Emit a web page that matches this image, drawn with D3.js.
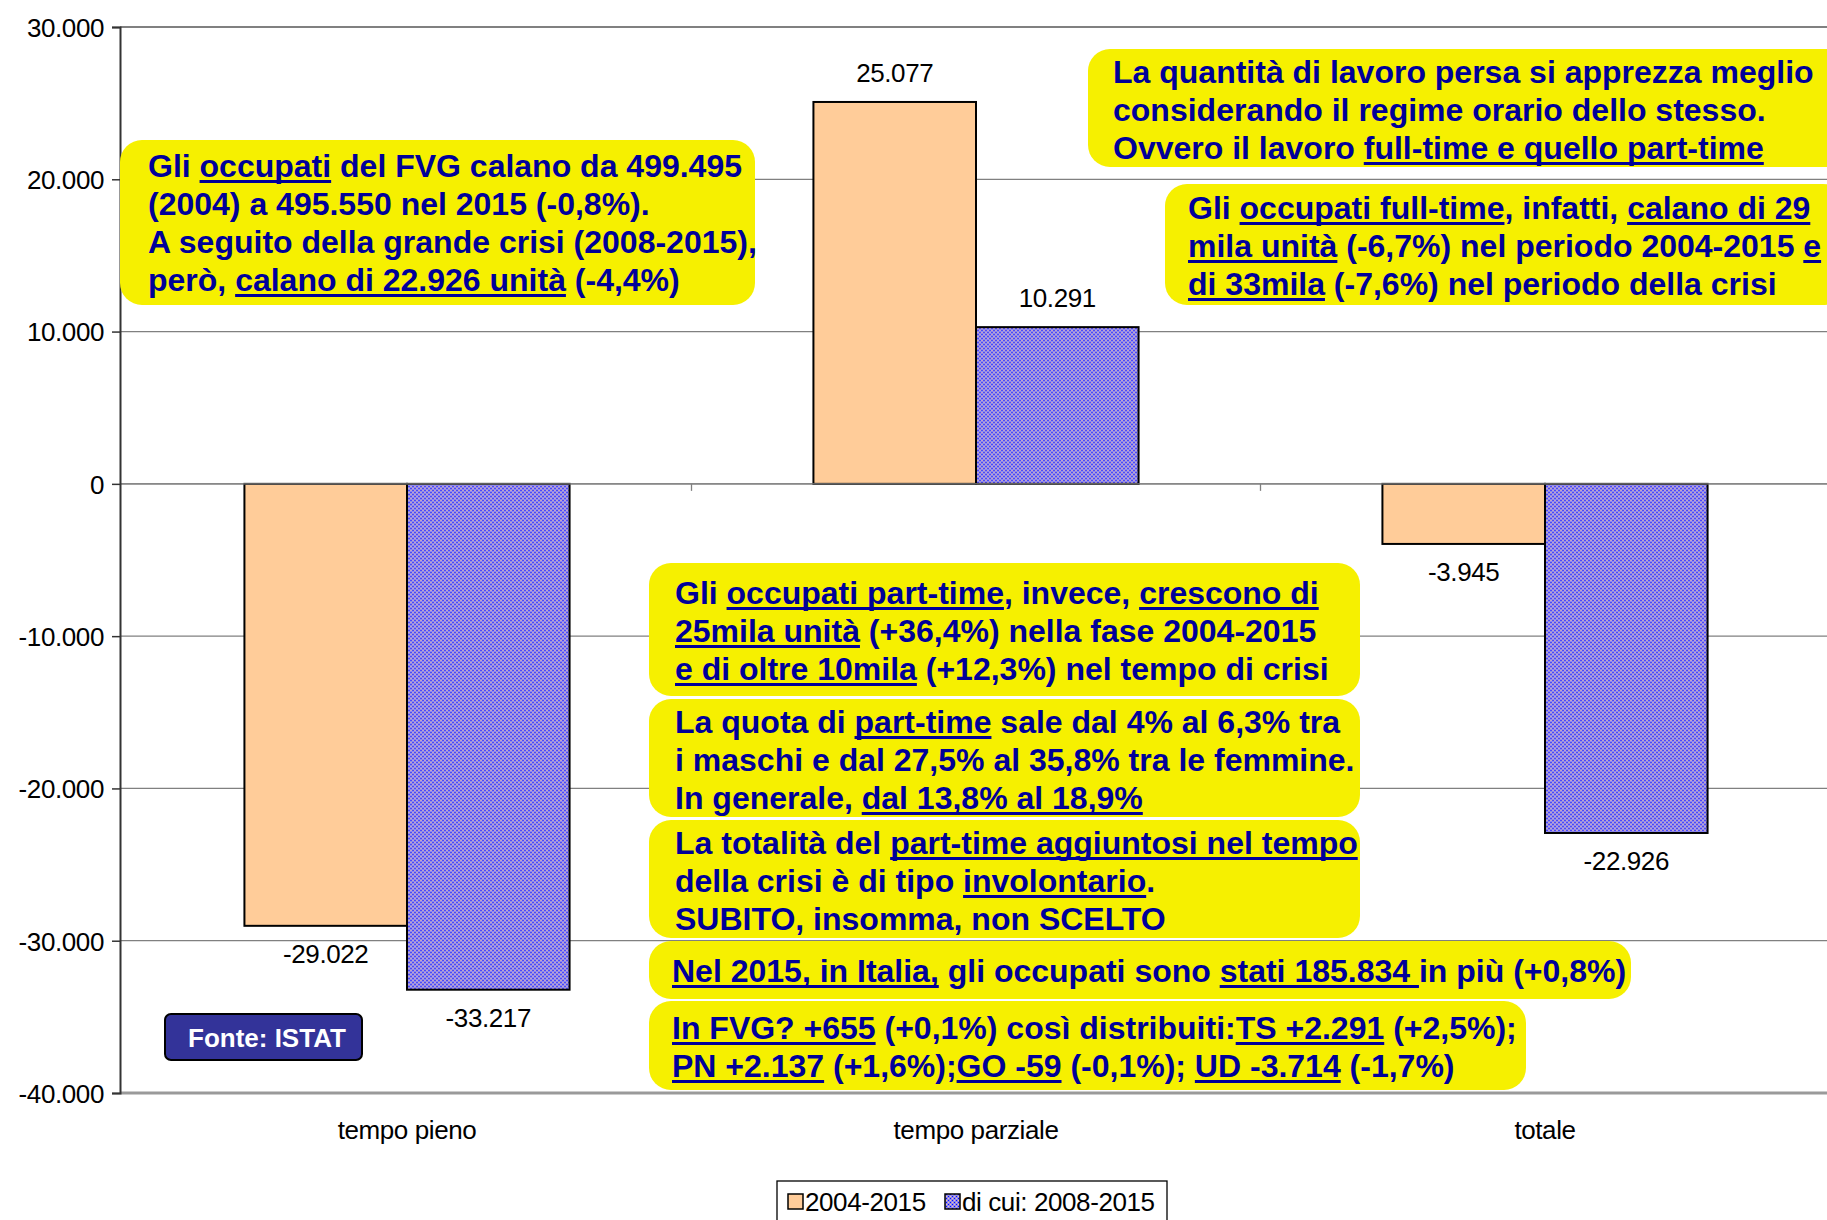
<!DOCTYPE html>
<html lang="it">
<head>
<meta charset="UTF-8" />
<title>Occupati FVG per regime orario</title>
<style>
  body { margin: 0; background: #fff; }
  svg { display: block; font-family: "Liberation Sans", Arial, sans-serif; }
  .tick text, .num { font-size: 26px; fill: #000; letter-spacing: -0.4px; }
  .note { font-size: 32px; font-weight: bold; fill: #000099; white-space: pre; }
</style>
</head>
<body>
<svg width="1827" height="1220"></svg>
<script src="https://d3js.org/d3.v7.min.js"></script>
<script>
  // data
  const categories = ["tempo pieno", "tempo parziale", "totale"];
  const series = ["2004-2015", "di cui: 2008-2015"];
  const values2004 = [-29022, 25077, -3945];
  const values2008 = [-33217, 10291, -22926];
  const yTicks = [30000, 20000, 10000, 0, -10000, -20000, -30000, -40000];

  // yellow boxes, "_" marks underlined parts
  const notes = [
    { x: 120, y: 140, w: 635, h: 165, tx: 148, ty: 177, lines: [
      "Gli _occupati_ del FVG calano da 499.495",
      "(2004) a 495.550 nel 2015 (-0,8%).",
      "A seguito della grande crisi (2008-2015),",
      "però, _calano di 22.926 unità_ (-4,4%)"] },
    { x: 1088, y: 49, w: 760, h: 118, tx: 1113, ty: 83, lines: [
      "La quantità di lavoro persa si apprezza meglio",
      "considerando il regime orario dello stesso.",
      "Ovvero il lavoro _full-time e quello part-time_"] },
    { x: 1165, y: 184, w: 680, h: 121, tx: 1188, ty: 219, lines: [
      "Gli _occupati full-time_, infatti, _calano di 29_",
      "_mila unità_ (-6,7%) nel periodo 2004-2015 _e_",
      "_di 33mila_ (-7,6%) nel periodo della crisi"] },
    { x: 649, y: 563, w: 711, h: 133, tx: 675, ty: 604, lines: [
      "Gli _occupati part-time_, invece, _crescono di_",
      "_25mila unità_ (+36,4%) nella fase 2004-2015",
      "_e di oltre 10mila_ (+12,3%) nel tempo di crisi"] },
    { x: 649, y: 699, w: 711, h: 118, tx: 675, ty: 733, lines: [
      "La quota di _part-time_ sale dal 4% al 6,3% tra",
      "i maschi e dal 27,5% al 35,8% tra le femmine.",
      "In generale, _dal 13,8% al 18,9%_"] },
    { x: 649, y: 820, w: 711, h: 118, tx: 675, ty: 854, lines: [
      "La totalità del _part-time aggiuntosi nel tempo_",
      "della crisi è di tipo _involontario_.",
      "SUBITO, insomma, non SCELTO"] },
    { x: 649, y: 941, w: 982, h: 58, tx: 672, ty: 982, lines: [
      "_Nel 2015, in Italia,_ gli occupati sono _stati 185.834 _in più (+0,8%)"] },
    { x: 649, y: 1001, w: 877, h: 89, tx: 672, ty: 1039, lines: [
      "_In FVG? +655_ (+0,1%) così distribuiti:_TS +2.291_ (+2,5%);",
      "_PN +2.137_ (+1,6%);_GO -59_ (-0,1%); _UD -3.714_ (-1,7%)"] }
  ];

  const svg = d3.select("svg");
  const plot = { left: 120, top: 27, right: 1827, bottom: 1093 };

  const fmt = d3.formatLocale({ decimal: ",", thousands: ".", grouping: [3], currency: ["", ""], minus: "-" }).format(",d");

  const x = d3.scaleBand().domain(categories).range([plot.left + 2.5, plot.right + 2.5]);
  const xs = d3.scaleBand().domain(series).range([0, x.bandwidth()]).paddingOuter(0.75);
  const y = d3.scaleLinear().domain([-40000, 30000]).range([plot.bottom, plot.top]);

  const rows = categories.map((c, i) => ({ cat: c, vals: [values2004[i], values2008[i]] }));

  // dotted fill for second series
  const defs = svg.append("defs");
  const pat = defs.append("pattern").attr("id", "dots")
    .attr("width", 4).attr("height", 4).attr("patternUnits", "userSpaceOnUse");
  pat.append("rect").attr("width", 4).attr("height", 4).attr("fill", "#8e88ee");
  [[0, 0, "#0a0aff"], [2, 2, "#0a0aff"], [2, 0, "#f4c4a4"], [0, 2, "#f4c4a4"]].forEach(p =>
    pat.append("rect").attr("x", p[0]).attr("y", p[1]).attr("width", 1).attr("height", 1)
      .attr("fill", p[2]).attr("shape-rendering", "crispEdges"));
  const fills = ["#ffcc99", "url(#dots)"];

  // gridlines
  svg.append("g").selectAll("line").data(yTicks).join("line")
    .attr("x1", plot.left).attr("x2", plot.right)
    .attr("y1", d => y(d)).attr("y2", d => y(d))
    .attr("stroke", d => d === -40000 ? "#9a9a9a" : "#808080")
    .attr("stroke-width", d => d === -40000 ? 3 : (d === 30000 ? 2 : 1.3));

  // bars
  const grp = svg.append("g").selectAll("g").data(rows).join("g")
    .attr("transform", d => `translate(${x(d.cat)},0)`);
  grp.selectAll("rect").data(d => d.vals.map((v, j) => ({ v, s: series[j], j }))).join("rect")
    .attr("x", d => xs(d.s))
    .attr("width", xs.bandwidth())
    .attr("y", d => y(Math.max(0, d.v)))
    .attr("height", d => Math.abs(y(d.v) - y(0)))
    .attr("fill", d => fills[d.j])
    .attr("stroke", "#000").attr("stroke-width", 2);
  grp.selectAll("text").data(d => d.vals.map((v, j) => ({ v, s: series[j] }))).join("text")
    .attr("class", "num")
    .attr("text-anchor", "middle")
    .attr("x", d => xs(d.s) + xs.bandwidth() / 2)
    .attr("y", d => d.v >= 0 ? y(d.v) - 20 : y(d.v) + 37)
    .text(d => fmt(d.v));

  // zero line with category ticks
  svg.append("line").attr("x1", plot.left).attr("x2", plot.right)
    .attr("y1", y(0)).attr("y2", y(0)).attr("stroke", "#808080").attr("stroke-width", 1.3);
  svg.append("g").selectAll("line").data(categories.slice(1)).join("line")
    .attr("x1", d => x(d)).attr("x2", d => x(d))
    .attr("y1", y(0)).attr("y2", y(0) + 7).attr("stroke", "#808080").attr("stroke-width", 1.3);

  // y axis
  const yAxis = svg.append("g").attr("transform", `translate(${plot.left},0)`)
    .call(d3.axisLeft(y).tickValues(yTicks).tickFormat(fmt).tickSize(8).tickPadding(8));
  yAxis.select(".domain").attr("stroke", "#333").attr("stroke-width", 2);
  yAxis.selectAll(".tick line").attr("stroke", "#333").attr("stroke-width", 1.5);
  yAxis.selectAll(".tick text").attr("font-family", null).attr("font-size", null).attr("dy", "0.36em");

  // category labels
  const xAxis = svg.append("g").attr("transform", `translate(0,${plot.bottom})`)
    .call(d3.axisBottom(x).tickSize(0).tickPadding(28));
  xAxis.select(".domain").remove();
  xAxis.selectAll(".tick text").attr("font-family", null).attr("font-size", null);

  // notes
  notes.forEach(n => {
    const g = svg.append("g");
    g.append("rect").attr("x", n.x).attr("y", n.y).attr("width", n.w).attr("height", n.h)
      .attr("rx", 22).attr("fill", "#f6f000");
    n.lines.forEach((ln, i) => {
      const t = g.append("text").attr("class", "note").attr("x", n.tx).attr("y", n.ty + i * 38);
      const parts = ln.split("_");
      const spans = parts.map((p, k) => ({ p, u: k % 2 === 1 })).filter(d => d.p.length)
        .map(d => ({ d, el: t.append("tspan").text(d.p) }));
      spans.forEach(s => {
        if (!s.d.u) return;
        const node = s.el.node();
        const x0 = node.getStartPositionOfChar(0).x;
        const len = node.getComputedTextLength();
        g.append("rect").attr("x", x0).attr("y", n.ty + i * 38 + 3)
          .attr("width", len).attr("height", 3).attr("fill", "#000099");
      });
    });
  });

  // source badge
  const src = svg.append("g");
  src.append("rect").attr("x", 165).attr("y", 1014).attr("width", 197).attr("height", 46)
    .attr("rx", 6).attr("fill", "#333399").attr("stroke", "#000").attr("stroke-width", 2);
  src.append("text").attr("x", 188).attr("y", 1047).attr("fill", "#fff")
    .attr("font-size", 26).attr("font-weight", "bold").text("Fonte: ISTAT");

  // legend
  const leg = svg.append("g");
  leg.append("rect").attr("x", 777).attr("y", 1181).attr("width", 390).attr("height", 55)
    .attr("fill", "#fff").attr("stroke", "#000").attr("stroke-width", 1.3);
  const legX = [788, 945];
  series.forEach((s, i) => {
    leg.append("rect").attr("x", legX[i]).attr("y", 1194).attr("width", 15).attr("height", 15)
      .attr("fill", fills[i]).attr("stroke", "#000").attr("stroke-width", 1.5);
    leg.append("text").attr("class", "num").attr("x", legX[i] + 17).attr("y", 1211).text(s);
  });
</script>
</body>
</html>
